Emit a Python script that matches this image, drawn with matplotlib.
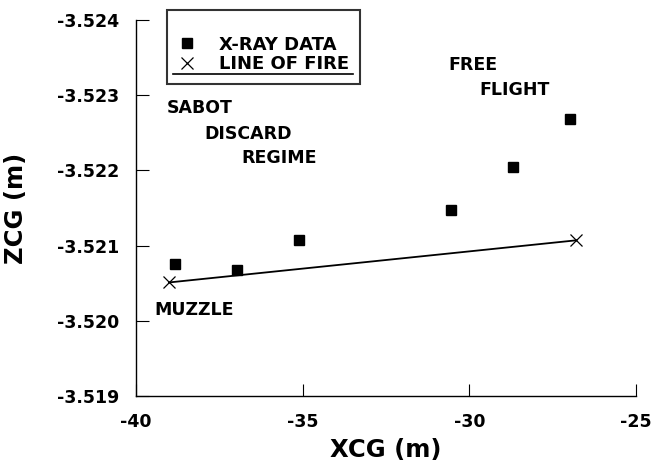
import matplotlib.pyplot as plt
from matplotlib.lines import Line2D

plt.rcParams['font.family'] = ['DejaVu Sans']
plt.rcParams['font.weight'] = 'bold'

# X-ray data (xcg, zcg)
xray_x = [-38.83, -36.97, -35.1, -30.55, -28.69, -26.98]
xray_z = [-3.52075, -3.52068, -3.52108, -3.52148, -3.52204, -3.52269]

# line of fire end points
fire_x = [-39.01, -26.8]
fire_z = [-3.52051, -3.52107]

xticks = [-40, -35, -30, -25]
yticks = [-3.524, -3.523, -3.522, -3.521, -3.520, -3.519]

fig = plt.figure(figsize=(6.52, 4.61), dpi=100)
ax = fig.add_axes([0.2086, 0.141, 0.7669, 0.8156])

ax.plot(xray_x, xray_z, 's', color='black', markersize=7, label='X-RAY DATA')
ax.plot(fire_x, fire_z, '-', color='black', lw=1.3, marker='x', markersize=8,
        markeredgewidth=0.9, label='LINE OF FIRE')

ax.set_xlim(-40, -25)
ax.set_ylim(-3.519, -3.524)
ax.set_xticks(xticks)
ax.set_xticklabels(['-40', '-35', '-30', '-25'])
ax.set_yticks(yticks)
ax.set_yticklabels(['%.3f' % v for v in yticks])
ax.tick_params(direction='in', length=9, width=0.8, labelsize=12.5)
ax.tick_params(axis='y', pad=12)
ax.tick_params(axis='x', pad=12)
ax.spines['top'].set_visible(False)
ax.spines['right'].set_visible(False)
for s in ['left', 'bottom']:
    ax.spines[s].set_linewidth(1.0)

ax.set_xlabel('XCG (m)', fontsize=17.5, fontweight='bold', labelpad=5)
ax.set_ylabel('ZCG (m)', fontsize=17.5, fontweight='bold', labelpad=21)

# annotations
fs = 12.5
ax.text(-39.07, -3.52283, 'SABOT', fontsize=fs, va='center')
ax.text(-37.96, -3.52249, 'DISCARD', fontsize=fs, va='center')
ax.text(-36.85, -3.52216, 'REGIME', fontsize=fs, va='center')
ax.text(-30.64, -3.5234, 'FREE', fontsize=fs, va='center')
ax.text(-29.71, -3.52307, 'FLIGHT', fontsize=fs, va='center')
ax.text(-39.46, -3.52015, 'MUZZLE', fontsize=fs, va='center')

leg = ax.legend(loc='upper left', bbox_to_anchor=(167 / 652, 1 - 10 / 461),
                bbox_transform=fig.transFigure, fontsize=13, frameon=True,
                fancybox=False, borderaxespad=0, handlelength=0.97,
                handletextpad=1.3, borderpad=0.6, labelspacing=0.1,
                title=' ', title_fontsize=8.5)
leg.get_frame().set_edgecolor('black')
leg.get_frame().set_linewidth(1.5)
for h in leg.legend_handles:
    h.set_linestyle('None')

fig.add_artist(Line2D([173 / 652, 353 / 652], [1 - 74 / 461, 1 - 74 / 461],
                      transform=fig.transFigure, color='black', lw=1.2))

fig.savefig('out.png', dpi=100)
